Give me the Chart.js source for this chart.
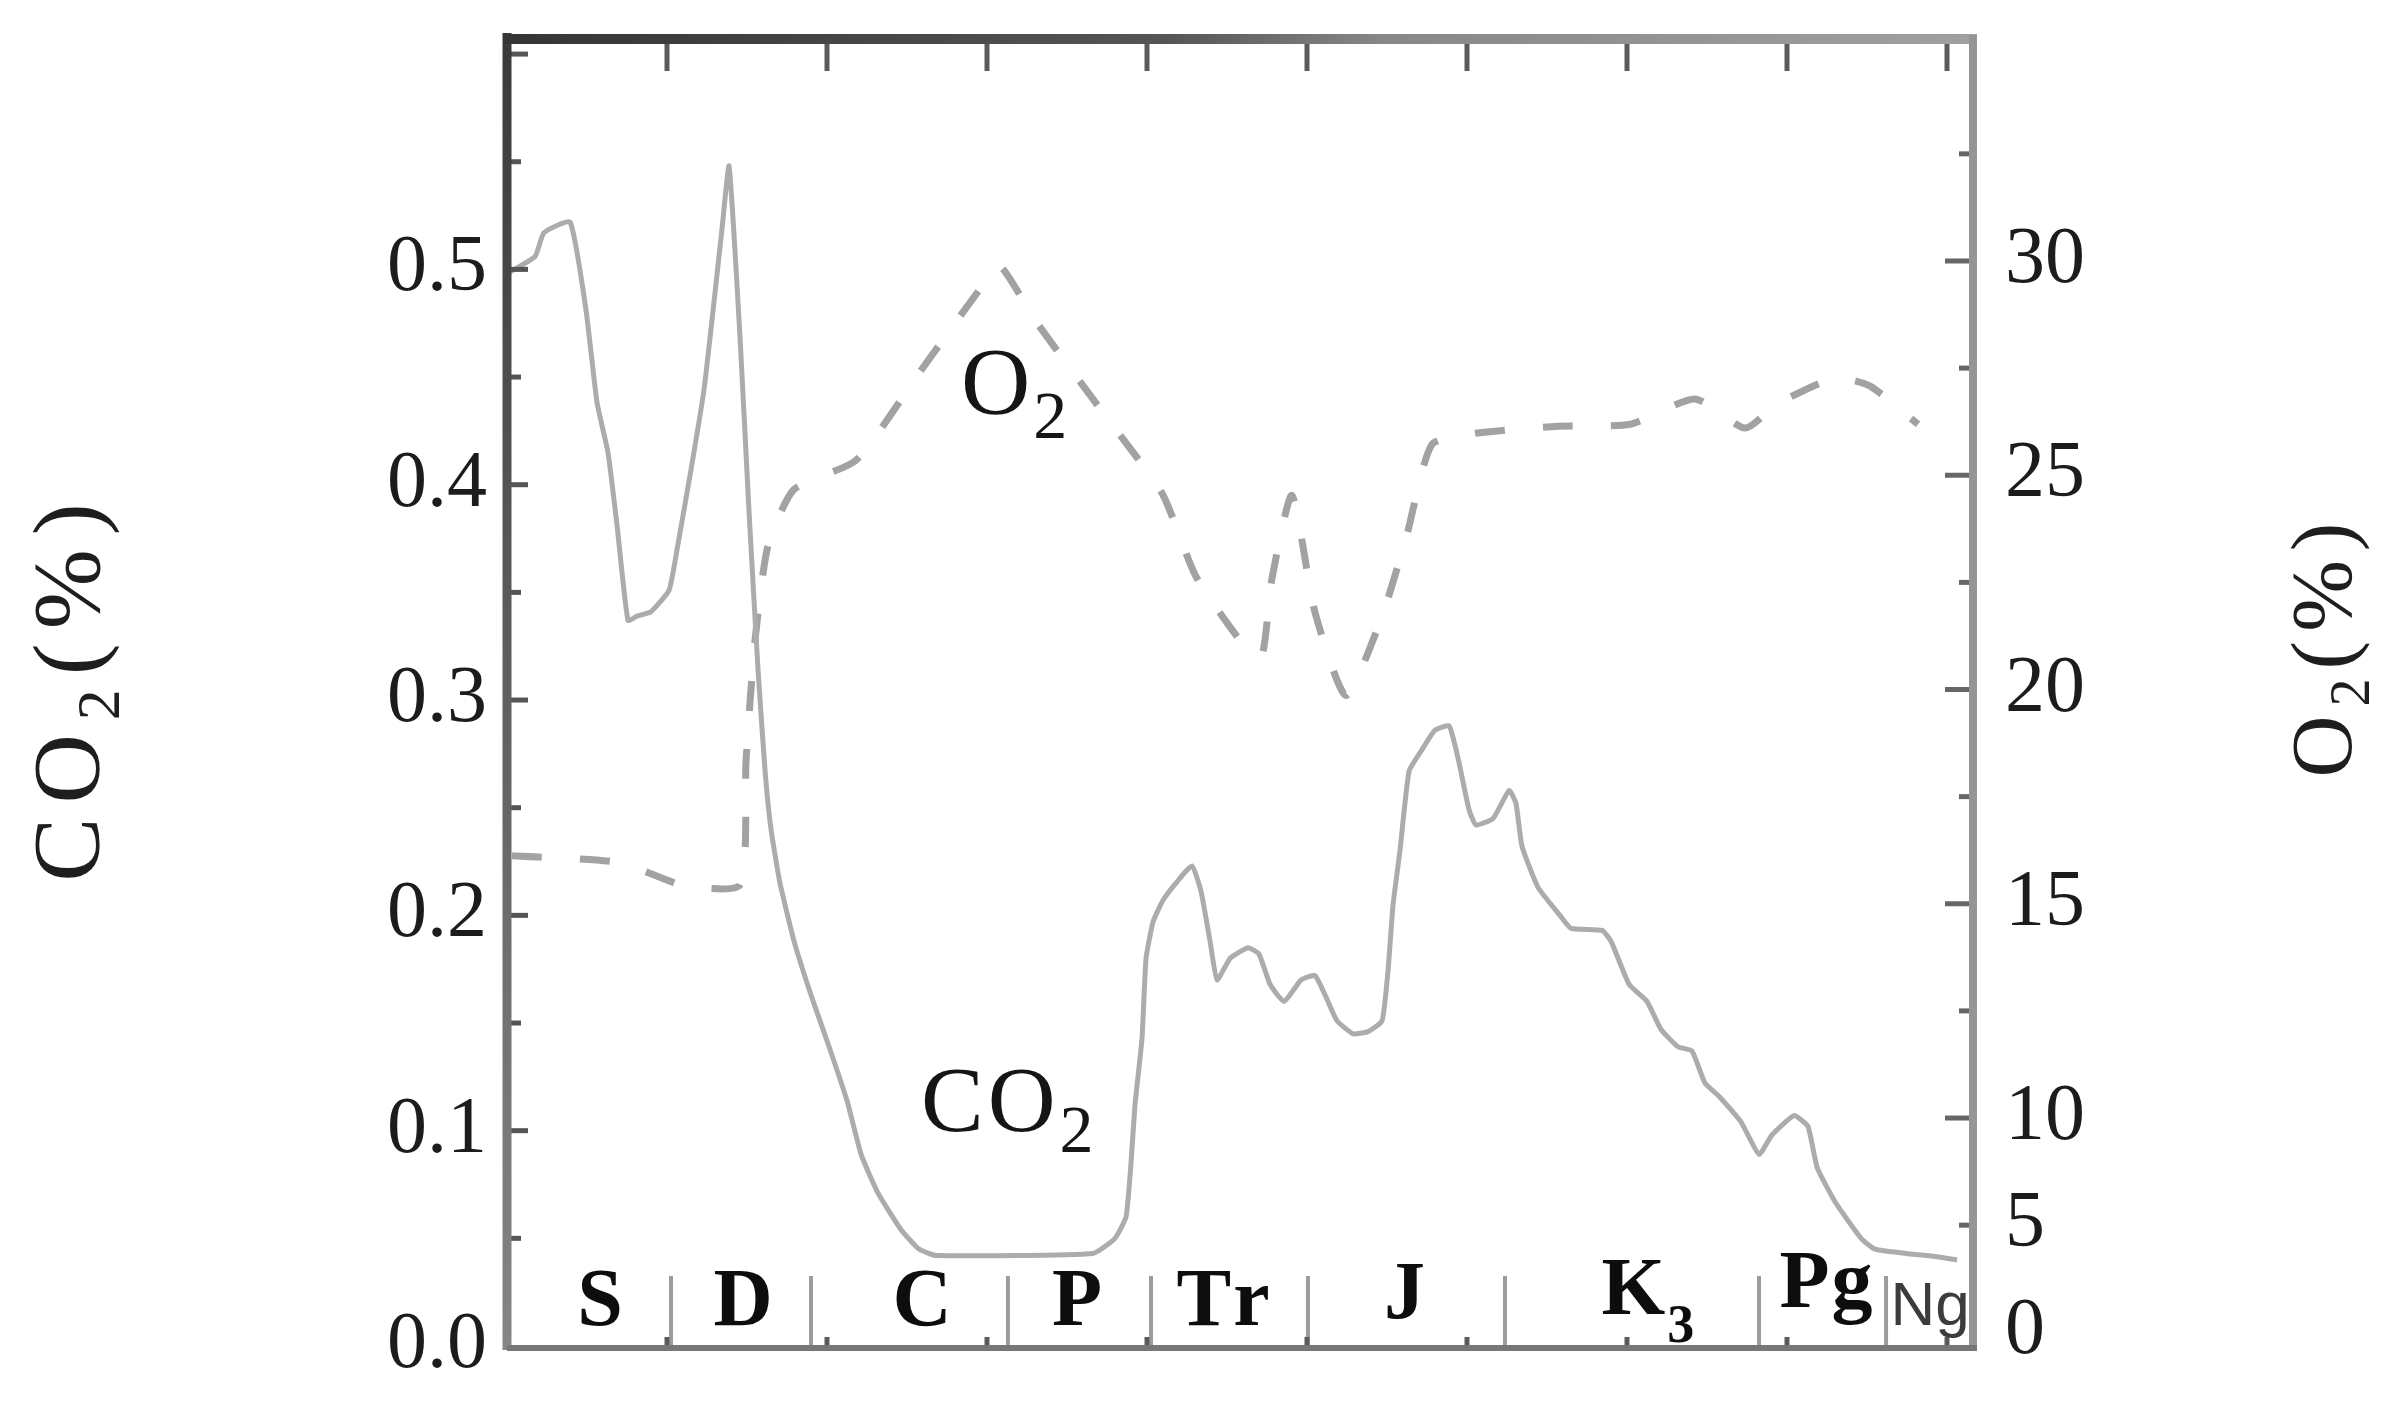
<!DOCTYPE html>
<html>
<head>
<meta charset="utf-8">
<script src="https://cdn.jsdelivr.net/npm/chart.js@4.4.1/dist/chart.umd.min.js"></script>
<style>
html,body{margin:0;padding:0;background:#fff;}
#wrap{width:2404px;height:1408px;position:relative;}
</style>
</head>
<body>
<div id="wrap"><canvas id="c"></canvas></div>
<script>
// x: relative geologic time (one top-axis tick interval = 1 unit)
const co2X = [0,0.175,0.231,0.394,0.494,0.563,0.631,0.688,0.756,0.813,0.9,1.013,1.063,1.15,1.231,1.288,1.344,1.388,1.456,1.513,1.569,1.613,1.65,1.706,1.794,1.9,2.013,2.125,2.213,2.319,2.463,2.575,2.681,3.663,3.8,3.869,3.9,3.925,3.969,3.994,4.038,4.1,4.181,4.281,4.338,4.394,4.438,4.519,4.631,4.7,4.769,4.856,4.963,5.05,5.119,5.188,5.288,5.381,5.469,5.506,5.538,5.581,5.638,5.719,5.8,5.888,5.944,6.013,6.056,6.163,6.263,6.306,6.344,6.444,6.581,6.65,6.844,6.9,7.013,7.125,7.213,7.319,7.406,7.488,7.575,7.713,7.825,7.906,8.044,8.131,8.188,8.3,8.463,8.55,8.744,8.881,9.063];
const co2Values = [0.498,0.506,0.517,0.522,0.481,0.438,0.415,0.381,0.337,0.339,0.341,0.351,0.370,0.407,0.444,0.481,0.519,0.548,0.469,0.387,0.314,0.267,0.240,0.215,0.188,0.163,0.139,0.114,0.089,0.071,0.054,0.045,0.042,0.043,0.050,0.060,0.085,0.112,0.143,0.180,0.197,0.207,0.215,0.223,0.211,0.188,0.170,0.180,0.185,0.182,0.168,0.160,0.170,0.172,0.162,0.151,0.145,0.146,0.151,0.174,0.205,0.230,0.267,0.277,0.286,0.288,0.273,0.249,0.242,0.245,0.258,0.252,0.232,0.213,0.200,0.194,0.193,0.188,0.168,0.160,0.147,0.139,0.137,0.122,0.116,0.104,0.089,0.098,0.107,0.102,0.083,0.067,0.050,0.045,0.043,0.042,0.040];

const o2X = [0.031,0.706,1.094,1.456,1.494,1.55,1.631,1.794,2.181,2.588,2.975,3.081,3.3,3.713,4.094,4.306,4.631,4.719,4.781,4.906,5.05,5.244,5.469,5.625,5.781,6.05,6.55,7.019,7.425,7.738,7.938,8.3,8.519,8.819];
const o2Values = [16.12,15.96,15.44,15.44,18.34,21.14,23.36,24.67,25.35,27.45,29.44,29.88,28.62,26.52,24.58,22.64,20.91,20.79,22.59,24.53,21.80,19.86,21.71,23.62,25.72,25.98,26.14,26.19,26.78,26.10,26.66,27.27,27.08,26.19];

const co2TickValues = [0, 0.1, 0.2, 0.3, 0.4, 0.5];
const o2TickValues = [5, 7.5, 10, 15, 20, 25, 30];
const o2TickLabels = ['0', '5', '10', '15', '20', '25', '30'];

const periodNames = ['S', 'D', 'C', 'P', 'Tr', 'J', 'K', 'Pg', 'Ng'];
const periodSubs = ['', '', '', '', '', '', '3', '', ''];
const periodCenters = [0.581, 1.475, 2.594, 3.5625, 4.475, 5.61, 7.13, 8.244, 8.894];
const periodBoundaries = [1.025, 1.9, 3.131, 4.025, 5.006, 6.2375, 7.825, 8.619];

// layout / style (not data)
const periodLift = [0, 0, 0, 0, 0, 7, 11, 18, 0];
const SERIF = "'Liberation Serif', 'Times New Roman', serif";
const SANS = "'Liberation Sans', Arial, sans-serif";

const co2Points = co2X.map((x, i) => ({x, y: co2Values[i]}));
const o2Points = o2X.map((x, i) => ({x, y: o2Values[i]}));

function richWidth(ctx, pieces, spacing) {
  let w = 0, n = 0;
  pieces.forEach(p => { ctx.font = p.font; for (const ch of p.t) { w += ctx.measureText(ch).width; n++; } });
  return w + spacing * Math.max(0, n - 1);
}
function drawRich(ctx, pieces, x, y, spacing, align, color) {
  const W = richWidth(ctx, pieces, spacing);
  let cx = align === 'center' ? x - W / 2 : x;
  ctx.textAlign = 'left';
  ctx.textBaseline = 'alphabetic';
  ctx.fillStyle = color;
  pieces.forEach(p => {
    ctx.font = p.font;
    for (const ch of p.t) {
      ctx.fillText(ch, cx, y + (p.dy || 0));
      cx += ctx.measureText(ch).width + spacing;
    }
  });
}

function seg(ctx, x1, y1, x2, y2) { ctx.beginPath(); ctx.moveTo(x1, y1); ctx.lineTo(x2, y2); ctx.stroke(); }

const decor = {
  id: 'decor',
  afterDatasetsDraw(chart) {
    const {ctx, chartArea: a, scales} = chart;
    const x = scales.x, y = scales.y, y2 = scales.y2;
    ctx.save();
    ctx.lineCap = 'butt';
    // period boundary marks
    ctx.strokeStyle = '#9c9c9c'; ctx.lineWidth = 4;
    periodBoundaries.forEach(b => { const px = x.getPixelForValue(b); seg(ctx, px, a.bottom, px, a.bottom - 70); });
    // top and bottom small ticks
    ctx.strokeStyle = '#5a5a5a'; ctx.lineWidth = 5;
    for (let i = 1; i <= Math.floor(x.max); i++) {
      const px = x.getPixelForValue(i);
      seg(ctx, px, a.top, px, a.top + 32);
      seg(ctx, px, a.bottom, px, a.bottom - 9);
    }
    // left ticks
    ctx.strokeStyle = '#555'; ctx.lineWidth = 5;
    for (let k = 1; k * 0.05 < y.max; k++) {
      const py = y.getPixelForValue(k * 0.05);
      seg(ctx, a.left, py, a.left + (k % 2 === 0 ? 21 : 14), py);
    }
    // right ticks
    ctx.strokeStyle = '#666';
    [10, 15, 20, 25, 30].forEach(v => { const py = y2.getPixelForValue(v); seg(ctx, a.right, py, a.right - 28, py); });
    [7.5, 12.5, 17.5, 22.5, 27.5, 32.5].forEach(v => { const py = y2.getPixelForValue(v); seg(ctx, a.right, py, a.right - 14, py); });
    // frame
    let g = ctx.createLinearGradient(0, a.top, 0, a.bottom);
    g.addColorStop(0, '#3a3a3a'); g.addColorStop(1, '#858585');
    ctx.strokeStyle = g; ctx.lineWidth = 9;
    seg(ctx, a.left, a.top - 6, a.left, a.bottom + 4);
    g = ctx.createLinearGradient(a.left, 0, a.right, 0);
    g.addColorStop(0, '#353535'); g.addColorStop(0.45, '#555'); g.addColorStop(0.6, '#888'); g.addColorStop(1, '#a0a0a0');
    ctx.strokeStyle = g; ctx.lineWidth = 10;
    seg(ctx, a.left - 4, a.top, a.right + 4, a.top);
    ctx.strokeStyle = '#959595'; ctx.lineWidth = 8;
    seg(ctx, a.right, a.top - 4, a.right, a.bottom + 4);
    ctx.strokeStyle = '#777'; ctx.lineWidth = 6;
    seg(ctx, a.left, a.bottom + 2, a.right + 4, a.bottom + 2);
    ctx.restore();
  },
  afterDraw(chart) {
    const {ctx, chartArea: a, scales} = chart;
    const x = scales.x, y = scales.y;
    ctx.save();
    // period labels
    periodNames.forEach((name, i) => {
      const cx = x.getPixelForValue(periodCenters[i]);
      const base = a.bottom - 21 - periodLift[i];
      let pieces;
      if (name === 'Ng') {
        pieces = [{t: name, font: `62px ${SANS}`}];
        drawRich(ctx, pieces, cx, base, 0, 'center', '#3c3c3c');
      } else {
        pieces = [{t: name, font: `bold 82px ${SERIF}`}];
        if (periodSubs[i]) pieces.push({t: periodSubs[i], font: `bold 54px ${SERIF}`, dy: 28});
        drawRich(ctx, pieces, cx, base, 2, 'center', '#0d0d0d');
      }
    });
    // in-plot series labels
    drawRich(ctx, [{t: 'O', font: `96px ${SERIF}`}, {t: '2', font: `68px ${SERIF}`, dy: 24}],
      x.getPixelForValue(2.8375), y.getPixelForValue(0.433), 3, 'left', '#151515');
    drawRich(ctx, [{t: 'CO', font: `94px ${SERIF}`}, {t: '2', font: `68px ${SERIF}`, dy: 21}],
      x.getPixelForValue(2.5875), y.getPixelForValue(0.1), 4, 'left', '#151515');
    // axis titles (both read bottom to top)
    ctx.save();
    ctx.translate(99, (a.top + a.bottom) / 2 + 0);
    ctx.translate(0, 0);
    ctx.rotate(-Math.PI / 2);
    drawRich(ctx, [{t: 'CO', font: `96px ${SERIF}`}, {t: '2', font: `62px ${SERIF}`, dy: 20}, {t: '(%)', font: `96px ${SERIF}`}],
      0, 0, 14, 'center', '#1e1e1e');
    ctx.restore();
    ctx.save();
    ctx.translate(2351, 650);
    ctx.rotate(-Math.PI / 2);
    drawRich(ctx, [{t: 'O', font: `86px ${SERIF}`}, {t: '2', font: `56px ${SERIF}`, dy: 18}, {t: '(%)', font: `86px ${SERIF}`}],
      0, 0, 9, 'center', '#1e1e1e');
    ctx.restore();
    ctx.restore();
  }
};

function zeroPad(s) { s.paddingTop = 0; s.paddingBottom = 0; s.paddingLeft = 0; s.paddingRight = 0; }

new Chart(document.getElementById('c'), {
  type: 'line',
  data: {
    datasets: [
      {
        label: 'CO2',
        data: co2Points,
        yAxisID: 'y',
        borderColor: '#acacac',
        borderWidth: 5,
        pointRadius: 0,
        tension: 0.15,
        fill: false
      },
      {
        label: 'O2',
        data: o2Points,
        yAxisID: 'y2',
        borderColor: '#a2a2a2',
        borderWidth: 7,
        borderDash: [30, 38],
        pointRadius: 0,
        tension: 0.2,
        fill: false
      }
    ]
  },
  options: {
    responsive: true,
    maintainAspectRatio: false,
    devicePixelRatio: 1,
    animation: false,
    events: [],
    layout: {padding: {top: 39, left: 0, right: 0, bottom: 0}},
    plugins: {legend: {display: false}, tooltip: {enabled: false}, title: {display: false}},
    scales: {
      x: {
        type: 'linear',
        position: 'bottom',
        min: 0,
        max: 9.1625,
        ticks: {display: false},
        grid: {display: false, drawTicks: false},
        border: {display: false},
        afterFit: s => { s.height = 62; zeroPad(s); }
      },
      y: {
        type: 'linear',
        position: 'left',
        min: 0,
        max: 0.607,
        afterBuildTicks: s => { s.ticks = co2TickValues.map(v => ({value: v})); },
        ticks: {
          font: {family: SERIF, size: 80},
          color: '#1c1c1c',
          padding: 20,
          callback: v => Number(v).toFixed(1)
        },
        grid: {display: false, drawTicks: false},
        border: {display: false},
        afterFit: s => { s.width = 507; zeroPad(s); }
      },
      y2: {
        type: 'linear',
        position: 'right',
        min: 4.68,
        max: 35.18,
        afterBuildTicks: s => { s.ticks = o2TickValues.map(v => ({value: v})); },
        ticks: {
          font: {family: SERIF, size: 80},
          color: '#1c1c1c',
          padding: 32,
          callback: (v, i) => o2TickLabels[i]
        },
        grid: {display: false, drawTicks: false},
        border: {display: false},
        afterFit: s => { s.width = 431; zeroPad(s); }
      }
    }
  },
  plugins: [decor]
});
</script>
</body>
</html>
